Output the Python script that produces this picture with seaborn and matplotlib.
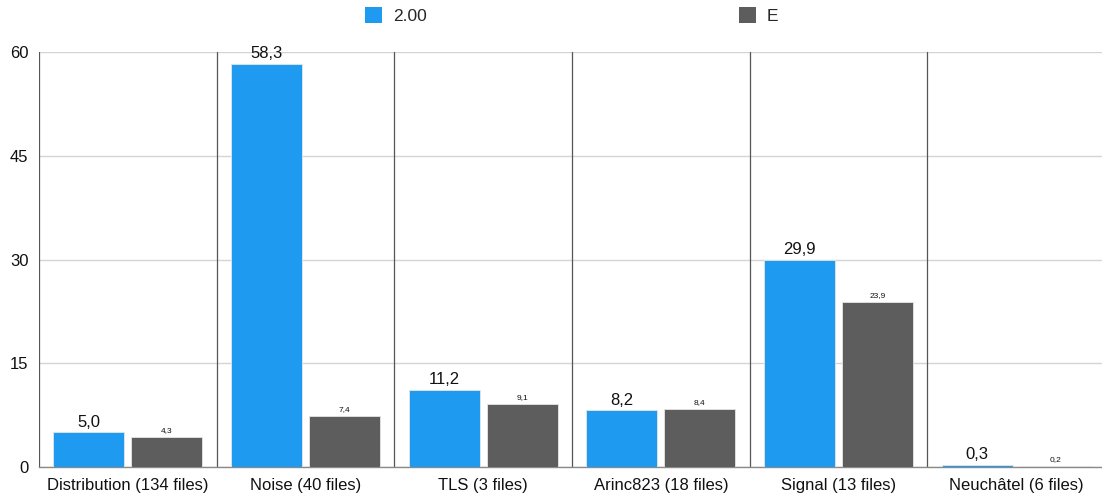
import matplotlib
matplotlib.use("Agg")
import matplotlib.pyplot as plt
import seaborn as sns
import pandas as pd
from matplotlib.patches import Patch

categories = ["Distribution (134 files)", "Noise (40 files)", "TLS (3 files)",
              "Arinc823 (18 files)", "Signal (13 files)", "Neuchâtel (6 files)"]
series_names = ["2.00", "E"]
values_200 = [5.0, 58.3, 11.2, 8.2, 29.9, 0.3]
values_e = [4.3, 7.4, 9.1, 8.4, 23.9, 0.2]
y_ticks = [0, 15, 30, 45, 60]

colors = {"2.00": "#1E9BF0", "E": "#5D5D5D"}

df = pd.DataFrame({
    "category": categories * 2,
    "series": [series_names[0]] * len(categories) + [series_names[1]] * len(categories),
    "value": values_200 + values_e,
})

sns.set_style("white")
plt.rcParams["font.family"] = ["Liberation Sans", "DejaVu Sans"]

fig = plt.figure(figsize=(11.02, 4.97), dpi=100)
ax = fig.add_axes([39 / 1102, 30 / 497, 1066 / 1102, 415 / 497])

sns.barplot(data=df, x="category", y="value", hue="series", order=categories,
            hue_order=series_names, palette=colors, saturation=1, width=0.88, gap=0.09,
            edgecolor="#e6e6e6", linewidth=0.6, legend=False, ax=ax, zorder=3)

ax.set_xlim(-0.5, len(categories) - 0.5)
ax.set_ylim(0, 60)
ax.set_yticks(y_ticks)
ax.yaxis.grid(True, color="#d4d4d4", linewidth=1.0, zorder=0)
ax.set_axisbelow(True)
for s in ["top", "right", "left"]:
    ax.spines[s].set_visible(False)
ax.spines["bottom"].set_color("#8a8a8a")
ax.spines["bottom"].set_linewidth(1.0)

# category separators
for xb in [i - 0.5 for i in range(len(categories))]:
    ax.axvline(xb, color="#555555", linewidth=0.9, zorder=2)

ax.set_xlabel("")
ax.set_ylabel("")
ax.tick_params(axis="x", length=0, labelsize=12, pad=8, colors="#111111")
ax.tick_params(axis="y", length=0, labelsize=12, pad=7.5, colors="#111111")

# value labels
for container, size in zip(ax.containers, [12, 6]):
    labels = [f"{v:.1f}".replace(".", ",") for v in container.datavalues]
    ax.bar_label(container, labels=labels, padding=2, fontsize=size, color="#111111")

# legend entries placed separately across the top
for name, x0 in zip(series_names, [365 / 1102, 739 / 1102]):
    fig.legend([Patch(facecolor=colors[name], edgecolor="none")], [name],
               loc="upper left", bbox_to_anchor=(x0, 1 - 7 / 497), frameon=False,
               fontsize=12.5, handlelength=1.0, handleheight=1.05, handletextpad=0.6,
               borderpad=0, borderaxespad=0)

fig.savefig("out.png", dpi=100)
